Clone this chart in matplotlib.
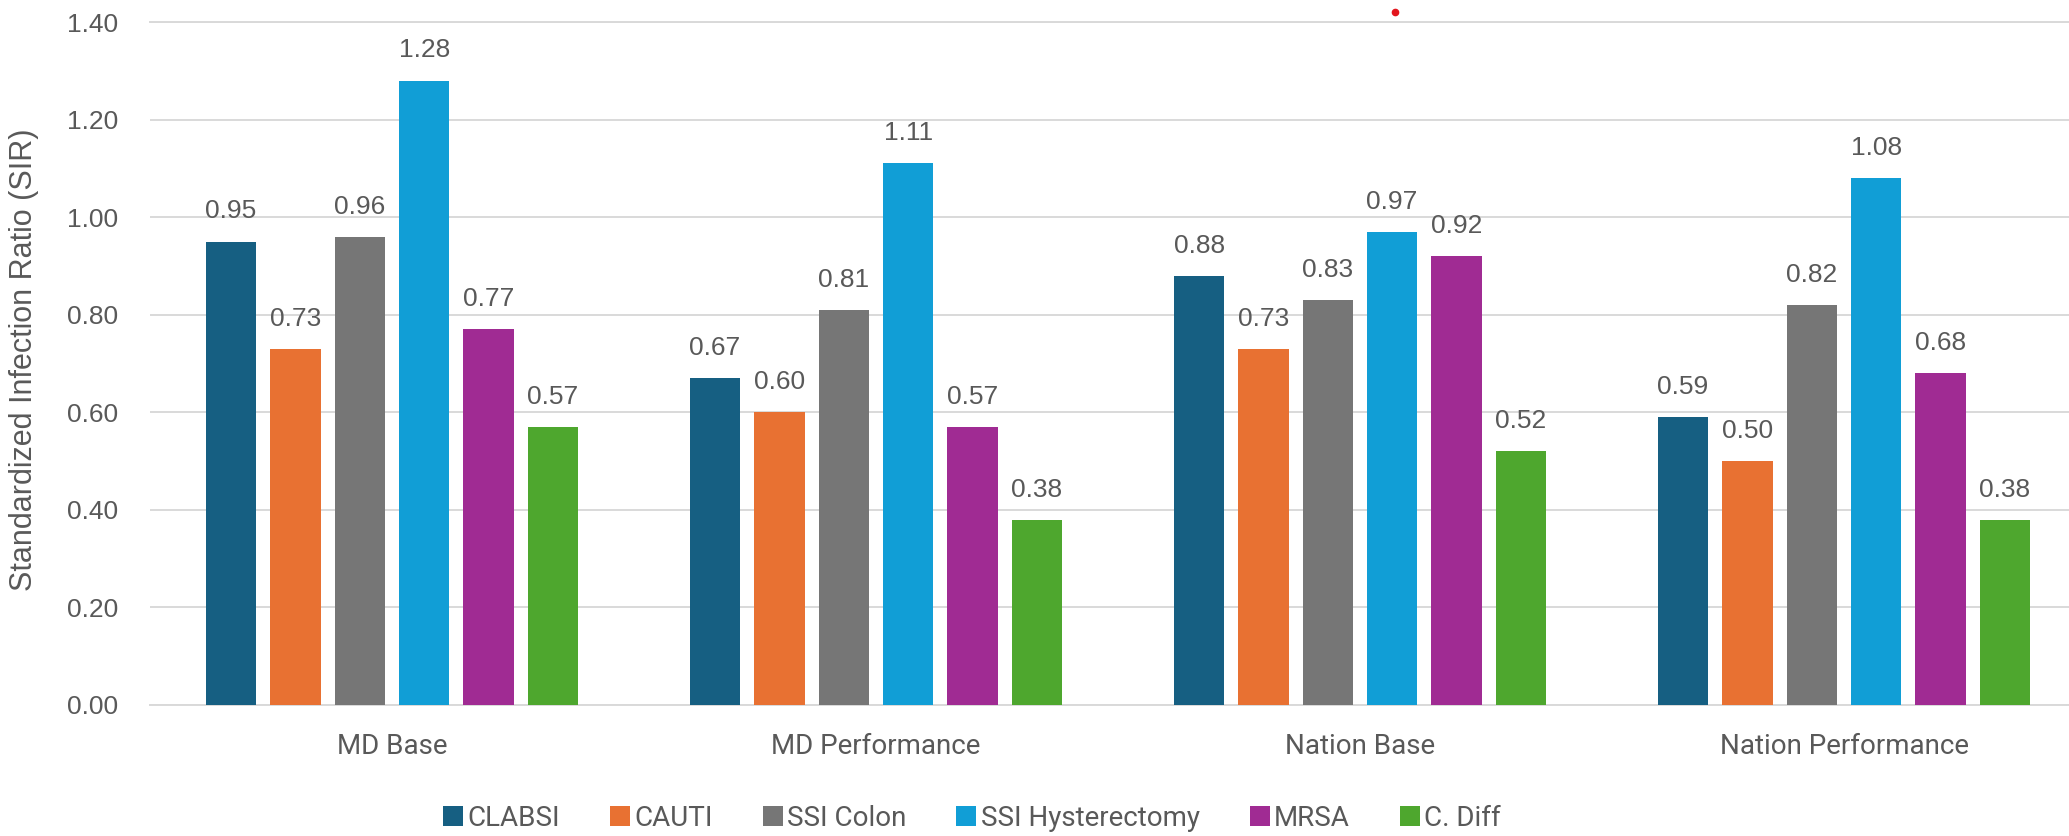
import matplotlib
matplotlib.use("Agg")
import matplotlib.pyplot as plt
import numpy as np
from matplotlib.lines import Line2D

categories = ["MD Base", "MD Performance", "Nation Base", "Nation Performance"]
series_names = ["CLABSI", "CAUTI", "SSI Colon", "SSI Hysterectomy", "MRSA", "C. Diff"]
clabsi = [0.95, 0.67, 0.88, 0.59]
cauti = [0.73, 0.60, 0.73, 0.50]
ssi_colon = [0.96, 0.81, 0.83, 0.82]
ssi_hyst = [1.28, 1.11, 0.97, 1.08]
mrsa = [0.77, 0.57, 0.92, 0.68]
cdiff = [0.57, 0.38, 0.52, 0.38]
yticks = [0.0, 0.2, 0.4, 0.6, 0.8, 1.0, 1.2, 1.4]

colors = ["#165f82", "#e87132", "#767676", "#119ed6", "#a02b93", "#4ea72e"]
series = [clabsi, cauti, ssi_colon, ssi_hyst, mrsa, cdiff]

W, H = 2069, 836
fig = plt.figure(figsize=(W / 100, H / 100), dpi=100)
ax = fig.add_axes([150 / W, 1 - 705 / H, (2086 - 150) / W, (705 - 22) / H])

text_gray = "#595959"
grid_gray = "#d9d9d9"

x = np.arange(len(categories))
step = 0.133
width = 0.1045
for i, (name, vals, c) in enumerate(zip(series_names, series, colors)):
    offs = (i - 2.5) * step
    bars = ax.bar(x + offs, vals, width=width, color=c, label=name, zorder=3)
    ax.bar_label(bars, labels=[f"{v:.2f}" for v in vals], padding=13,
                 fontsize=19, color=text_gray, family="Liberation Sans")

ax.set_xlim(-0.5, 3.5)
ax.set_ylim(0, 1.4)
ax.set_yticks(yticks)
ax.set_yticklabels([f"{t:.2f}" for t in yticks], fontsize=19, color=text_gray,
                   family="Liberation Sans")
ax.set_xticks(x)
ax.set_xticklabels(categories, fontsize=20, color=text_gray, family="Roboto")
ax.tick_params(axis="y", length=0, pad=23)
ax.tick_params(axis="x", length=0, pad=20)
ax.grid(axis="y", color=grid_gray, linewidth=1.4, zorder=0)
ax.set_axisbelow(True)
for s in ["left", "right"]:
    ax.spines[s].set_visible(False)
for s in ["top", "bottom"]:
    ax.spines[s].set_color(grid_gray)
    ax.spines[s].set_linewidth(1.4)

fig.text(24 / W, 1 - 360 / H, "Standardized Infection Ratio (SIR)", rotation=90,
         ha="center", va="center", fontsize=22, color=text_gray, family="Liberation Sans")

leg = fig.legend(loc="center", bbox_to_anchor=(972 / W, 1 - 818 / H), ncol=6,
                 frameon=False, prop={"family": "Roboto", "size": 20},
                 handlelength=0.72, handleheight=0.72, handletextpad=0.15,
                 columnspacing=1.8)
for t in leg.get_texts():
    t.set_color(text_gray)

# small red dot artifact above the plot
fig.add_artist(Line2D([1395 / W], [1 - 12 / H], marker="o", markersize=4.5,
                      color="#e3161e", linestyle="none", transform=fig.transFigure))

fig.savefig("out.png", dpi=100)
